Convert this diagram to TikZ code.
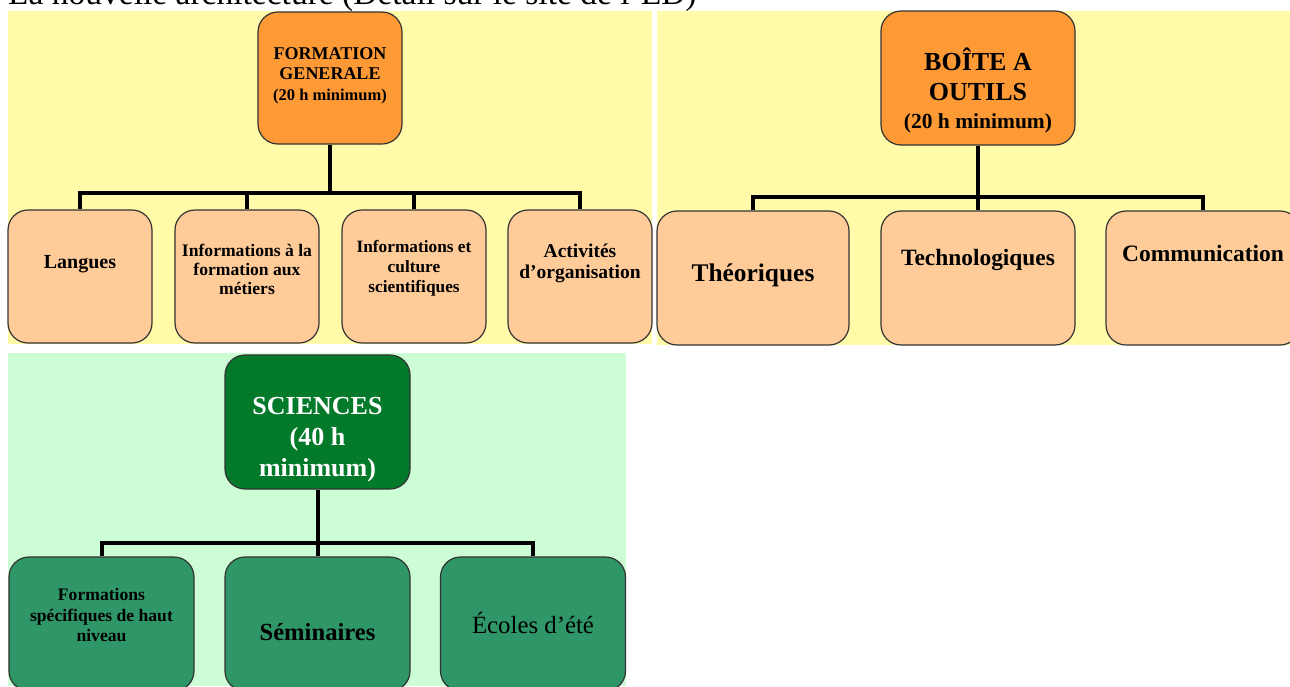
\documentclass[tikz,border=0pt]{standalone}
\usepackage{fontspec}
\setmainfont{Liberation Serif}
\definecolor{ybg}{HTML}{FFFBA8}
\definecolor{gbg}{HTML}{CCFDD4}
\definecolor{orangeP}{HTML}{FE9A36}
\definecolor{peach}{HTML}{FFCC99}
\definecolor{darkG}{HTML}{027A2A}
\definecolor{midG}{HTML}{2F9668}
\definecolor{edge}{HTML}{333333}
\tikzset{
  box/.style={draw=edge, line width=1.2pt, rounded corners=20pt, inner sep=0pt},
  conn/.style={line width=4pt, black},
  lab/.style={align=center, inner sep=0pt},
}
\newcommand{\fs}[2]{\fontsize{#1}{#2}\selectfont}
\begin{document}
\begin{tikzpicture}[x=1pt,y=-1pt]
\useasboundingbox (0,0) rectangle (1290,686);
\clip (0,0) rectangle (1290,686);
\fill[white] (0,0) rectangle (1290,686);
\node[anchor=base west, font=\fs{33.5}{40}, inner sep=0pt] (title) at (8,4) {La nouvelle architecture (Détail sur le site de l’ED)};
% panels
\fill[ybg] (8,11) rectangle (652,344);
\fill[ybg] (657,11) rectangle (1290,345);
\fill[gbg] (8,353) rectangle (626,686);

% ---- panel 1
\node[box, fill=orangeP, minimum width=144pt, minimum height=132pt] (fg) at (330,78) {};
\node[box, fill=peach, minimum width=144pt, minimum height=133pt] (c1) at (80,276.5) {};
\node[box, fill=peach, minimum width=144pt, minimum height=133pt] (c2) at (247,276.5) {};
\node[box, fill=peach, minimum width=144pt, minimum height=133pt] (c3) at (414,276.5) {};
\node[box, fill=peach, minimum width=144pt, minimum height=133pt] (c4) at (580,276.5) {};
\coordinate (b1) at (330,193);
\draw[conn] (fg.south) -- (b1);
\draw[conn] (c1.north) |- (b1) -| (c4.north);
\draw[conn] (c2.north) -- (c2.north |- b1);
\draw[conn] (c3.north) -- (c3.north |- b1);
\node[lab, font=\bfseries\fs{18}{20}] (fgt) at (330,76) {FORMATION\\GENERALE\\[1pt]{\fs{16.5}{20}(20 h minimum)}};
\node[lab, font=\bfseries\fs{20}{22}] (c1t) at (80,264) {Langues};
\node[lab, font=\bfseries\fs{17.6}{19}] (c2t) at (247,269) {Informations à la\\formation aux\\métiers};
\node[lab, font=\bfseries\fs{17.3}{20}] (c3t) at (414,268) {Informations et\\culture\\scientifiques};
\node[lab, font=\bfseries\fs{19.5}{21}] (c4t) at (580,263) {Activités\\d’organisation};

% ---- panel 2
\node[box, fill=orangeP, minimum width=194pt, minimum height=134pt] (ba) at (978,78) {};
\node[box, fill=peach, minimum width=192pt, minimum height=134pt] (t1) at (753,278) {};
\node[box, fill=peach, minimum width=194pt, minimum height=134pt] (t2) at (978,278) {};
\node[box, fill=peach, minimum width=194pt, minimum height=134pt] (t3) at (1203,278) {};
\coordinate (b2) at (978,197);
\draw[conn] (ba.south) -- (b2);
\draw[conn] (t1.north) |- (b2) -| (t3.north);
\draw[conn] (t2.north) -- (t2.north |- b2);
\node[lab, font=\bfseries\fs{26}{30}] (bat) at (978,90) {BOÎTE A\\OUTILS\\[-2pt]{\fs{21.5}{26}(20 h minimum)}};
\node[lab, font=\bfseries\fs{25.4}{28}] (t1t) at (753,275) {Théoriques};
\node[lab, font=\bfseries\fs{23.4}{26}] (t2t) at (978,260) {Technologiques};
\node[lab, font=\bfseries\fs{23.5}{26}] (t3t) at (1203,253) {Communication};

% ---- panel 3
\node[box, fill=darkG, minimum width=185pt, minimum height=134pt] (sc) at (317.5,422) {};
\node[box, fill=midG, minimum width=185pt, minimum height=134pt] (s1) at (101.5,624) {};
\node[box, fill=midG, minimum width=185pt, minimum height=134pt] (s2) at (317.5,624) {};
\node[box, fill=midG, minimum width=185pt, minimum height=134pt] (s3) at (533,624) {};
\coordinate (b3) at (317.5,543);
\draw[conn] (sc.south) -- (b3);
\draw[conn] (s1.north) |- (b3) -| (s3.north);
\draw[conn] (s2.north) -- (s2.north |- b3);
\node[lab, text=white, font=\bfseries\fs{26}{31}] (sct) at (317.5,440) {SCIENCES\\(40 h\\minimum)};
\node[lab, font=\bfseries\fs{17.6}{20.5}] (s1t) at (101.5,615) {Formations\\spécifiques de haut\\niveau};
\node[lab, font=\bfseries\fs{24.6}{28}] (s2t) at (317.5,632) {Séminaires};
\node[lab, font=\fs{24.8}{28}] (s3t) at (533,623) {Écoles d’été};
\end{tikzpicture}
\end{document}
